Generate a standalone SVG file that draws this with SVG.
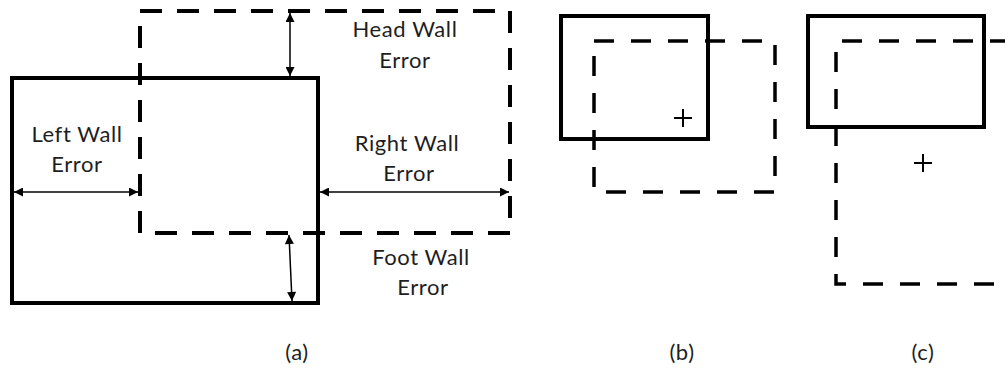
<svg xmlns="http://www.w3.org/2000/svg" width="1005" height="368" viewBox="0 0 1005 368">
<style>
.solid{fill:none;stroke:#000;stroke-width:4;stroke-linejoin:miter}
.dash{fill:none;stroke:#000;stroke-width:4;stroke-dasharray:22 15}
.dash3{fill:none;stroke:#000;stroke-width:3.5;stroke-dasharray:20 17}
.arr{fill:none;stroke:#000;stroke-width:1.5;marker-start:url(#ah);marker-end:url(#ah)}
.lbl{font-family:Lato,"Open Sans",sans-serif;font-size:22px;letter-spacing:0.6px;fill:#1e1e1e;text-anchor:middle}
.plus{stroke:#000;stroke-width:2}
</style>
<defs>
<marker id="ah" viewBox="0 0 10 10" refX="10" refY="5" markerWidth="10" markerHeight="9" markerUnits="userSpaceOnUse" orient="auto-start-reverse">
<path d="M0,0 L10,5 L0,10 Z" fill="#000"/>
</marker>
</defs>
<rect width="1005" height="368" fill="#fff"/>
<g id="panel-a">
<rect id="a-actual" class="solid" x="12" y="78" width="306" height="225"/>
<rect id="a-planned" class="dash" x="140" y="11" width="370" height="222"/>
<text class="lbl" x="405" y="37">Head Wall</text>
<text class="lbl" x="405" y="68">Error</text>
<text class="lbl" x="77" y="142">Left Wall</text>
<text class="lbl" x="77" y="172">Error</text>
<text class="lbl" x="407" y="151">Right Wall</text>
<text class="lbl" x="409" y="181">Error</text>
<text class="lbl" x="421" y="265">Foot Wall</text>
<text class="lbl" x="423" y="295">Error</text>
<text class="lbl" x="297" y="360">(a)</text>
</g>
<g id="connectors">
<line class="arr" x1="290" y1="13" x2="290" y2="76"/>
<line class="arr" x1="14" y1="192" x2="138" y2="192"/>
<line class="arr" x1="320" y1="192" x2="509" y2="192"/>
<line class="arr" x1="289" y1="235" x2="292" y2="301"/>
</g>
<g id="panel-b">
<rect class="solid" x="561" y="16" width="147" height="123"/>
<rect class="dash3" x="594" y="41" width="181" height="151"/>
<line class="plus" x1="674" y1="118" x2="692" y2="118"/>
<line class="plus" x1="683" y1="109" x2="683" y2="127"/>
<text class="lbl" x="682" y="360">(b)</text>
</g>
<g id="panel-c">
<rect class="solid" x="808" y="16" width="176" height="111"/>
<path class="dash3" d="M1010,41 H836 V284 H1010"/>
<line class="plus" x1="914" y1="163" x2="932" y2="163"/>
<line class="plus" x1="923" y1="154" x2="923" y2="172"/>
<text class="lbl" x="923" y="360">(c)</text>
</g>
</svg>
